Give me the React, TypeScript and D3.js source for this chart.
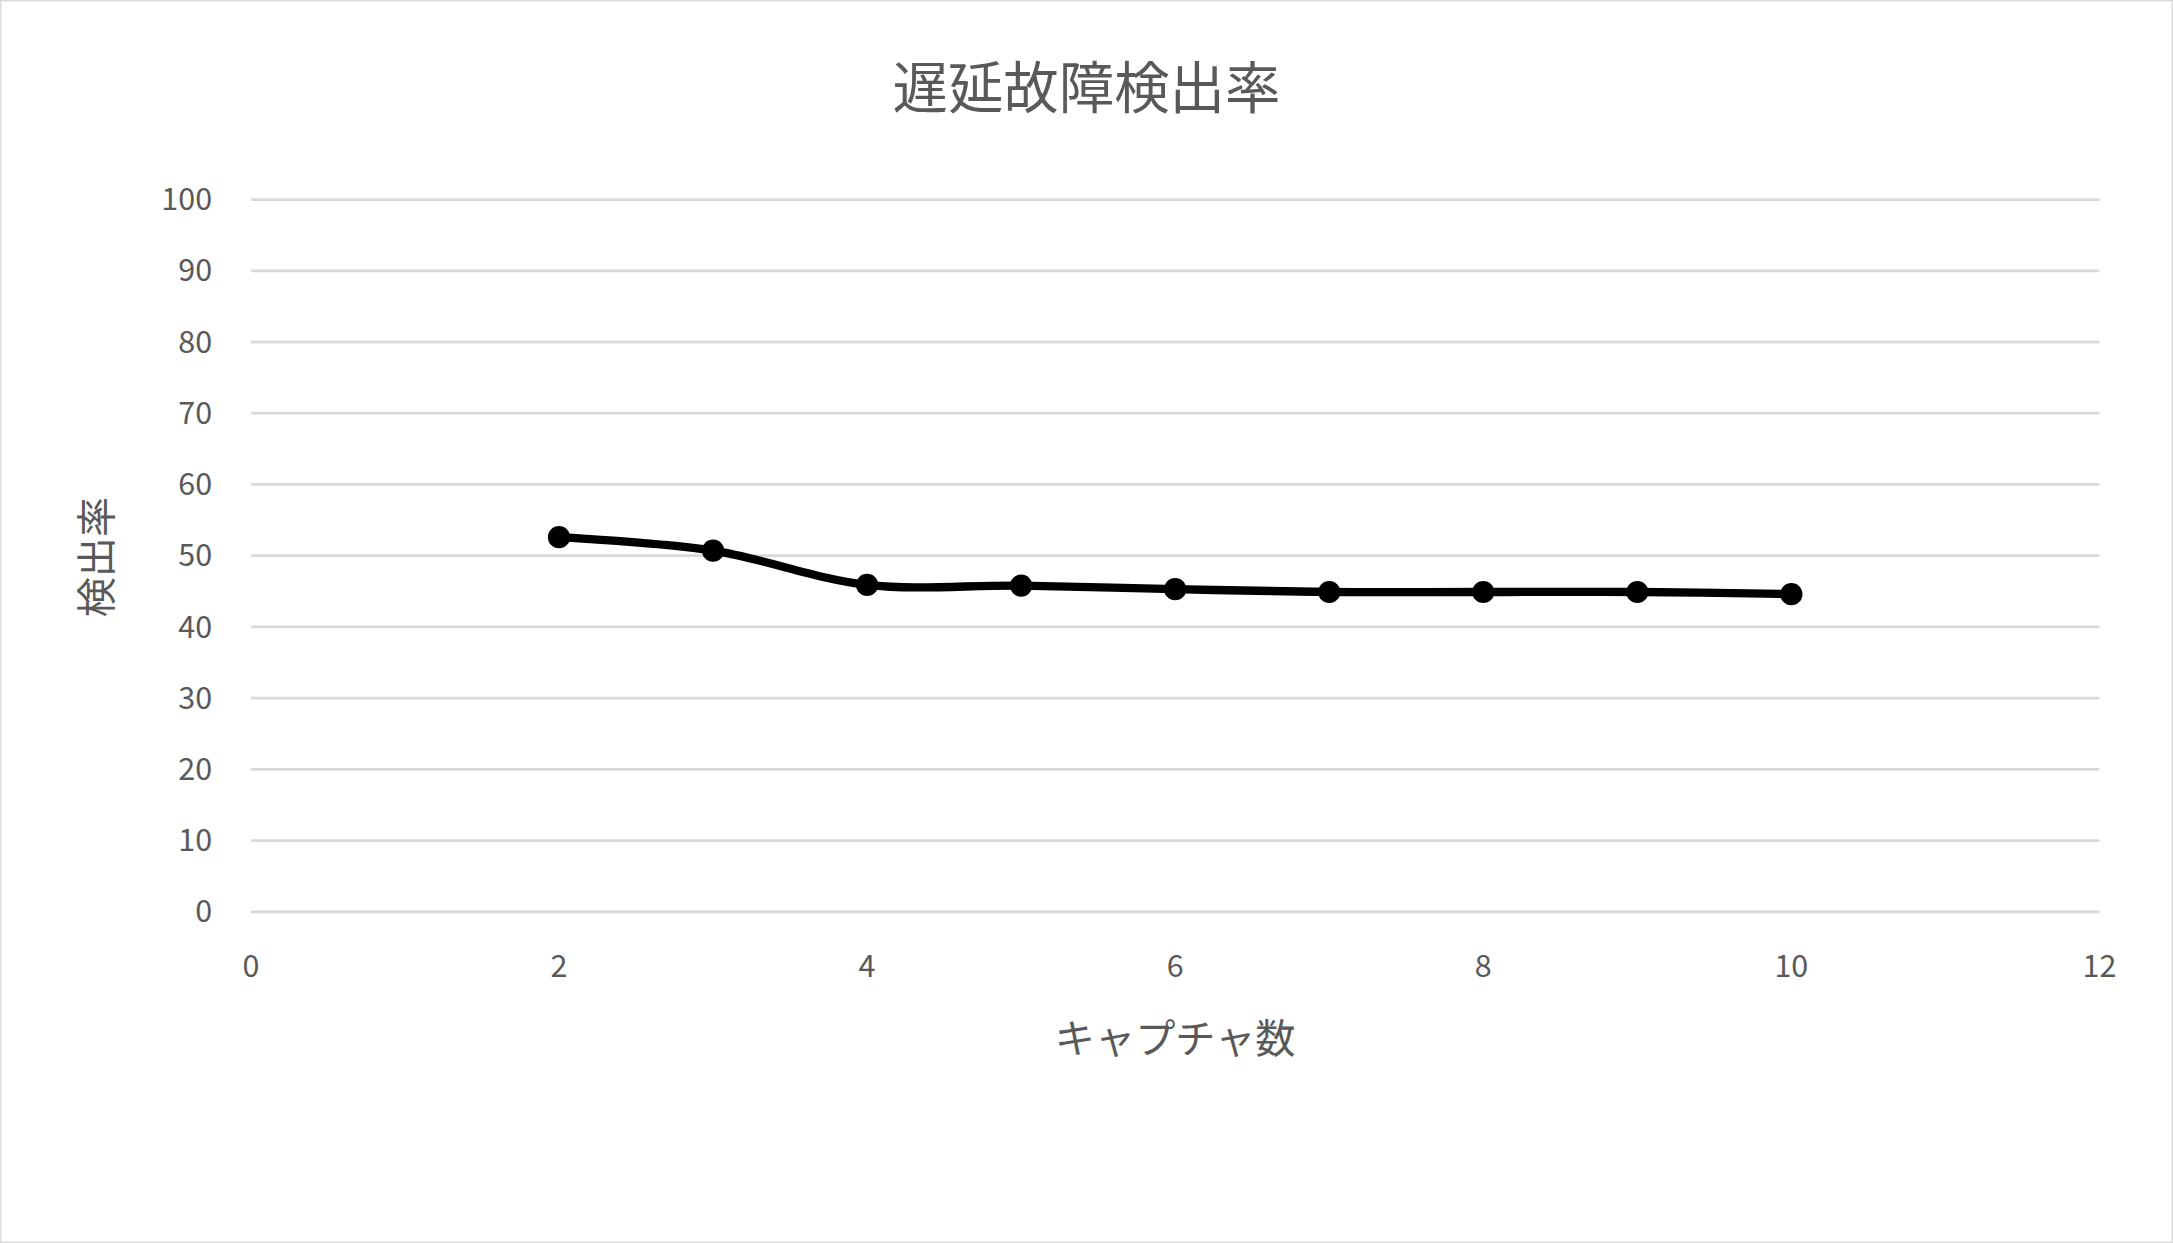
import React from "react";
import * as d3 from "d3";

const captures = [2, 3, 4, 5, 6, 7, 8, 9, 10];
const rates = [52.6, 50.7, 45.9, 45.8, 45.3, 44.9, 44.9, 44.9, 44.6];
const yTicks = [0, 10, 20, 30, 40, 50, 60, 70, 80, 90, 100];
const xTicks = [0, 2, 4, 6, 8, 10, 12];

const W = 1568;
const H = 897;
const font = "'Noto Sans CJK JP', 'Noto Sans', sans-serif";

export default function App() {
  const x = d3.scaleLinear().domain([0, 12]).range([181, 1515]);
  const y = d3.scaleLinear().domain([0, 100]).range([658, 144]);
  const pts = captures.map((c, i) => [x(c), y(rates[i])] as [number, number]);
  const line = d3.line().curve(d3.curveCatmullRom.alpha(0.5))(pts) || "";

  return (
    <svg
      width={2173}
      height={1243}
      viewBox={`0 0 ${W} ${H}`}
      style={{ position: "absolute", left: 0, top: 0, background: "#fff" }}
      fontFamily={font}
    >
      <rect x={0.5} y={0.5} width={W - 1} height={H - 1} fill="#fff" stroke="#d9d9d9" />
      <text x={784} y={78} textAnchor="middle" fontSize={40} fill="#595959">
        遅延故障検出率
      </text>
      {yTicks.map((t) => (
        <g key={t}>
          <line x1={181} x2={1515} y1={y(t)} y2={y(t)} stroke="#d9d9d9" strokeWidth={2} />
          <text x={153} y={y(t)} dy="0.35em" textAnchor="end" fontSize={22} fill="#595959">
            {t}
          </text>
        </g>
      ))}
      {xTicks.map((t) => (
        <text key={t} x={x(t)} y={705} textAnchor="middle" fontSize={22} fill="#595959">
          {t}
        </text>
      ))}
      <text x={848} y={760} textAnchor="middle" fontSize={29} fill="#595959">
        キャプチャ数
      </text>
      <text
        transform="translate(80,402) rotate(-90)"
        textAnchor="middle"
        fontSize={29}
        fill="#595959"
      >
        検出率
      </text>
      <path d={line} fill="none" stroke="#000" strokeWidth={6} strokeLinecap="round" />
      {pts.map(([px, py], i) => (
        <circle key={i} cx={px} cy={py} r={8} fill="#000" />
      ))}
    </svg>
  );
}
